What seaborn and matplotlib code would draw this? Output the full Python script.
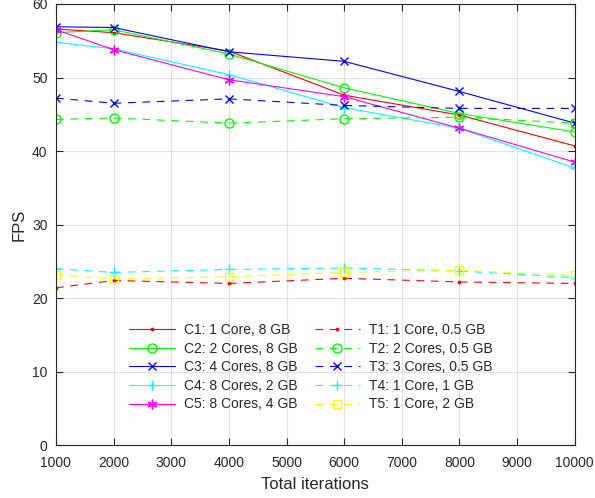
import matplotlib
matplotlib.use('Agg')
import matplotlib.pyplot as plt
import seaborn as sns
import pandas as pd

# 반복 횟수 (x축)
iterations = [1000, 2000, 4000, 6000, 8000, 10000]

# 시리즈 이름
labels = ['C1: 1 Core, 8 GB', 'C2: 2 Cores, 8 GB', 'C3: 4 Cores, 8 GB',
          'C4: 8 Cores, 2 GB', 'C5: 8 Cores, 4 GB',
          'T1: 1 Core, 0.5 GB', 'T2: 2 Cores, 0.5 GB', 'T3: 3 Cores, 0.5 GB',
          'T4: 1 Core, 1 GB', 'T5: 1 Core, 2 GB']

# FPS 값
c1 = [56.6, 56.1, 53.6, 47.6, 44.9, 40.7]
c2 = [56.1, 56.5, 53.2, 48.6, 45.1, 42.6]
c3 = [56.9, 56.8, 53.5, 52.2, 48.1, 43.8]
c4 = [54.8, 53.9, 50.4, 45.9, 43.1, 37.7]
c5 = [56.5, 53.8, 49.7, 47.4, 43.1, 38.5]
t1 = [21.4, 22.4, 22.0, 22.7, 22.2, 22.0]
t2 = [44.3, 44.5, 43.8, 44.4, 44.6, 43.8]
t3 = [47.2, 46.5, 47.1, 46.2, 45.8, 45.8]
t4 = [24.0, 23.5, 23.9, 24.1, 23.7, 22.8]
t5 = [23.2, 22.6, 22.9, 23.5, 23.8, 23.1]

series = [c1, c2, c3, c4, c5, t1, t2, t3, t4, t5]
colors = ['red', 'lime', 'blue', 'cyan', 'magenta',
          'red', 'lime', 'blue', 'cyan', 'yellow']
asterisk = (6, 2, 0)
markers = ['.', 'o', 'x', '+', asterisk, '.', 'o', 'x', '+', 's']
msizes = [3.5, 6.5, 6, 7, 7, 3.5, 6.5, 6, 7, 6]

sns.set_style('whitegrid')
plt.rcParams['font.family'] = ['Liberation Sans', 'DejaVu Sans']

fig = plt.figure(figsize=(5.95, 4.98), dpi=100)
ax = fig.add_axes([0.094, 0.106, 0.872, 0.886])

for i, (vals, lab) in enumerate(zip(series, labels)):
    df = pd.DataFrame({'iter': iterations, 'fps': vals})
    col = colors[i]
    ls = '-' if i < 5 else (0, (7, 6))
    hollow = isinstance(markers[i], str) and markers[i] in 'os'
    sns.lineplot(data=df, x='iter', y='fps', ax=ax, color=col, marker=markers[i],
                 markersize=msizes[i], markerfacecolor='none' if hollow else col,
                 markeredgecolor=col, markeredgewidth=1.0, linewidth=0.8,
                 linestyle=ls, label=lab)

ax.set_xlim(1000, 10000)
ax.set_ylim(0, 60)
ax.set_xticks(range(1000, 10001, 1000))
ax.set_yticks(range(0, 61, 10))
ax.grid(True, color='#e0e0e0', linewidth=0.8)
for s in ax.spines.values():
    s.set_color('#262626')
    s.set_linewidth(0.8)
ax.tick_params(direction='in', length=5, width=0.8, top=True, right=True,
               labelsize=10, colors='#262626', bottom=True, left=True)
ax.tick_params(axis='x', pad=8)
ax.tick_params(axis='y', pad=6)
ax.set_xlabel('Total iterations', fontsize=12, color='#262626', labelpad=5)
ax.set_ylabel('FPS', fontsize=12, color='#262626', labelpad=4)

# 범례 (2열, 테두리 없음)
leg = ax.legend(ncol=2, loc='upper left', bbox_to_anchor=(0.12, 0.302), fontsize=10,
                frameon=False, handlelength=3.3, handletextpad=0.65,
                labelspacing=0.33, columnspacing=1.2, borderpad=0.3)

fig.savefig('out.png', dpi=100)
